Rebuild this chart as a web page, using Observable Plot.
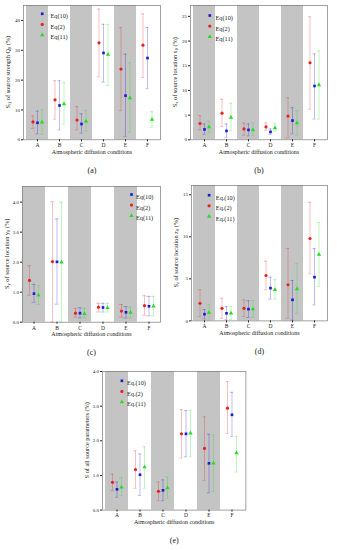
<!DOCTYPE html>
<html><head><meta charset="utf-8">
<script src="https://cdn.jsdelivr.net/npm/d3@7"></script>
<script src="https://cdn.jsdelivr.net/npm/@observablehq/plot@0.6"></script>
<style>
body{margin:0;background:#fff;width:337px;height:550px;overflow:hidden;position:relative;font-family:"Liberation Serif",serif}
#fig{position:relative;width:337px;height:550px}
#fig svg{position:absolute;overflow:visible}
</style></head><body>
<div id="fig"></div>
<script>
const categories = ["A","B","C","D","E","F"];
const shaded = [true,false,true,false,true,false];
const namesPlain = ["Eq(10)","Eq(2)","Eq(11)"];
const namesDot = ["Eq.(10)","Eq.(2)","Eq.(11)"];

// each entry: [value, lower, upper]
const a_eq10 = [[5.7,2.0,9.6],[11.5,3.3,19.8],[5.3,2.2,8.7],[29.1,19.3,38.7],[14.8,1.1,28.7],[27.4,17.1,37.6]];
const a_eq2  = [[6.0,3.8,8.0],[13.4,6.9,19.8],[6.6,3.3,11.1],[32.5,21.1,43.8],[23.7,9.8,37.6],[31.7,20.9,42.2]];
const a_eq11 = [[5.9,1.8,10.0],[12.0,5.3,19.1],[6.2,2.9,9.8],[28.6,18.2,38.7],[14.0,2.6,25.8],[6.8,4.2,9.4]];
const a_ticks = [0,10,20,30,40];

const b_eq10 = [[2.1,1.1,3.2],[1.8,0.5,3.2],[2.0,0.8,3.2],[1.6,1.1,2.2],[3.9,1.2,6.5],[10.9,4.2,17.4]];
const b_eq2  = [[3.3,2.0,4.9],[5.4,2.7,8.2],[2.2,0.9,3.4],[2.6,1.9,3.4],[4.8,0.4,8.5],[15.6,6.2,24.9]];
const b_eq11 = [[2.6,1.5,3.8],[4.5,1.8,7.4],[2.0,0.9,3.4],[2.4,1.8,3.2],[3.4,0.9,5.9],[11.1,4.2,18.0]];
const b_ticks = [0,5,10,15,20,25];

const c_eq10 = [[0.95,0.66,1.26],[2.01,0.6,3.44],[0.30,0.14,0.48],[0.49,0.34,0.63],[0.33,0.14,0.52],[0.53,0.21,0.86]];
const c_eq2  = [[1.39,0.9,1.88],[2.02,0.0,4.01],[0.30,0.17,0.46],[0.50,0.34,0.63],[0.37,0.17,0.59],[0.55,0.23,0.88]];
const c_eq11 = [[0.90,0.59,1.21],[2.00,0.0,4.0],[0.28,0.14,0.46],[0.48,0.34,0.63],[0.32,0.14,0.50],[0.53,0.21,0.86]];
const c_ticks = [0,1,2,3,4];

const d_eq10 = [[0.8,0.24,1.35],[0.9,0.15,1.7],[1.4,0.4,2.4],[3.9,2.6,5.2],[2.5,0.1,4.8],[5.2,1.9,8.6]];
const d_eq2  = [[2.1,0.5,3.7],[1.5,0.3,2.7],[1.5,0.5,2.5],[5.4,3.7,7.1],[4.3,0.3,8.6],[9.8,5.6,14.1]];
const d_eq11 = [[1.0,0.1,1.9],[0.9,0.15,1.7],[1.4,0.4,2.4],[3.7,2.6,4.9],[3.8,0.9,6.8],[7.9,4.1,11.7]];
const d_ticks = [0,5,10,15];

const e_eq10 = [[0.60,0.37,0.81],[1.02,0.42,1.62],[0.57,0.27,0.87],[2.20,1.54,2.87],[1.35,0.50,2.19],[2.75,2.12,3.40]];
const e_eq2  = [[0.80,0.56,1.04],[1.17,0.63,1.71],[0.54,0.27,0.81],[2.20,1.50,2.90],[1.78,0.85,2.69],[2.94,2.21,3.71]];
const e_eq11 = [[0.66,0.42,0.94],[1.24,0.63,1.83],[0.64,0.33,0.96],[2.22,1.54,2.88],[1.35,0.54,2.17],[1.65,1.10,2.12]];
const e_ticks = [0,1,2,3,4];

const panels = [
  {s:[a_eq10,a_eq2,a_eq11], ymax:45, ticks:a_ticks, left:23, top:5, w:137, h:134.3,
   ylab:[["S",""],["Q","sub"],[" of source strength Q",""],["0","sub"],[" (%)",""]], names:namesPlain, leg:[18.7,8.3,27], cap:"(a)"},
  {s:[b_eq10,b_eq2,b_eq11], ymax:27.2, ticks:b_ticks, left:190, top:5, w:137, h:134.3,
   ylab:[["S",""],["x","sub"],[" of source location x",""],["0","sub"],[" (%)",""]], names:namesPlain, leg:[19.3,10,25], cap:"(b)"},
  {s:[c_eq10,c_eq2,c_eq11], ymax:4.52, ticks:c_ticks, left:22, top:186, w:138, h:135.7,
   ylab:[["S",""],["y","sub"],[" of source location y",""],["0","sub"],[" (%)",""]], names:namesPlain, leg:[109,8,113.5], cap:"(c)"},
  {s:[d_eq10,d_eq2,d_eq11], ymax:16.1, ticks:d_ticks, left:190.7, top:185.3, w:136, h:135.4,
   ylab:[["S",""],["z","sub"],[" of source location z",""],["0","sub"],[" (%)",""]], names:namesDot, leg:[17.6,9.7,24.3], cap:"(d)"},
  {s:[e_eq10,e_eq2,e_eq11], ymax:4, ticks:e_ticks, left:102.3, top:370.7, w:143.4, h:138.6,
   ylab:[["S of all source parameters (%)",""]], names:namesDot, leg:[19.4,9.3,24.4], cap:"(e)"}
];

const colors = ["#1a1ad6","#e52222","#22dd22"];
const symbols = ["square","circle","triangle"];
const sizes = [1.5,1.6,1.6];
const offsets = [0,-4.5,4.5];
const ML = 26, MR = 6, MT = 5, MB = 40;
const fig = document.getElementById("fig");

for (const p of panels) {
  const bw = p.w / categories.length;
  const capInset = (bw - 4) / 2;
  const marks = [
    Plot.barY(categories.filter((c,i)=>shaded[i]), {x: d=>d, y1: 0, y2: ()=>p.ymax, fill: "#c4c4c4"}),
    Plot.frame({stroke: "#7a7a7a", strokeWidth: 0.7}),
    Plot.axisY({ticks: p.ticks, tickSize: 2, tickPadding: 1.5, label: null, fontSize: 5}),
    Plot.axisX({tickSize: 2, tickPadding: 1.5, label: null, fontSize: 5.5}),
    Plot.text(["Atmospheric diffusion conditions"], {text: d=>d, frameAnchor: "bottom", dy: 14, fontSize: 6, fill: "#222"}),
    Plot.text([p.cap], {text: d=>d, frameAnchor: "bottom", dy: 33, fontSize: 8, fill: "#222"})
  ];
  p.s.forEach((arr, k) => {
    const data = categories.map((c,i)=>({cat:c, v:arr[i][0], lo:arr[i][1], hi:arr[i][2]}));
    marks.push(
      Plot.ruleX(data, {x:"cat", y1:"lo", y2:"hi", dx: offsets[k], stroke: colors[k], strokeOpacity: 0.32, strokeWidth: 0.9}),
      Plot.tickY(data, {x:"cat", y:"lo", dx: offsets[k], insetLeft: capInset, insetRight: capInset, stroke: colors[k], strokeOpacity: 0.32, strokeWidth: 0.9}),
      Plot.tickY(data, {x:"cat", y:"hi", dx: offsets[k], insetLeft: capInset, insetRight: capInset, stroke: colors[k], strokeOpacity: 0.32, strokeWidth: 0.9}),
      Plot.dot(data, {x:"cat", y:"v", dx: offsets[k], symbol: symbols[k], r: sizes[k], fill: colors[k], stroke: "none"})
    );
    marks.push(
      Plot.dot([p.names[k]], {frameAnchor: "top-left", dx: p.leg[0], dy: p.leg[1] + k*10.6, symbol: symbols[k], r: sizes[k], fill: colors[k], stroke: "none"}),
      Plot.text([p.names[k]], {text: d=>d, frameAnchor: "top-left", dx: p.leg[2], dy: p.leg[1] + k*10.6, textAnchor: "start", fontSize: 6.3, fill: "#222"})
    );
  });
  const svg = Plot.plot({
    width: p.w + ML + MR, height: p.h + MT + MB,
    marginLeft: ML, marginRight: MR, marginTop: MT, marginBottom: MB,
    style: {fontFamily: "'Liberation Serif', serif", fontSize: "5.5px", color: "#222", background: "transparent"},
    x: {type: "band", domain: categories, padding: 0},
    y: {domain: [0, p.ymax]},
    marks
  });
  svg.style.left = (p.left - ML) + "px";
  svg.style.top = (p.top - MT) + "px";
  fig.appendChild(svg);
  // rotated y-axis title with subscripts
  const t = d3.select(svg).append("text")
    .attr("transform", `translate(${ML - 13},${MT + p.h/2}) rotate(-90)`)
    .attr("text-anchor", "middle").attr("font-size", 6.3).attr("fill", "#222")
    .attr("font-family", "'Liberation Serif', serif");
  let shift = 0;
  for (const [str, kind] of p.ylab) {
    const sp = t.append("tspan").text(str);
    if (kind === "sub") { sp.attr("font-size", 4.4).attr("dy", 1.3); shift = 1.3; }
    else if (shift) { sp.attr("dy", -shift); shift = 0; }
  }
}
</script>
</body></html>
